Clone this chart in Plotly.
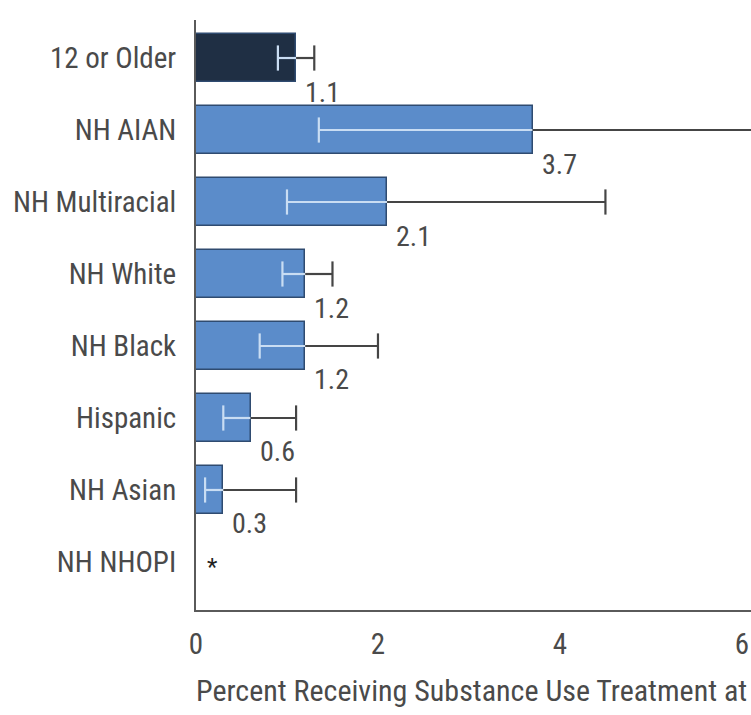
import plotly.graph_objects as go

# Percent receiving substance use treatment, by race/ethnicity
groups = ["12 or Older", "NH AIAN", "NH Multiracial", "NH White",
          "NH Black", "Hispanic", "NH Asian", "NH NHOPI"]
percent = [1.1, 3.7, 2.1, 1.2, 1.2, 0.6, 0.3, None]
ci_low = [0.9, 1.35, 1.0, 0.95, 0.7, 0.3, 0.1, None]
ci_high = [1.3, 7.5, 4.5, 1.5, 2.0, 1.1, 1.1, None]
x_ticks = [0, 2, 4, 6]
suppressed_note = "*"
x_title = "Percent Receiving Substance Use Treatment at"

FONT = "Roboto Condensed, Roboto, sans-serif"
SIZE = 29
TEXT = "#4a4a4a"
AXIS = "#5a5a5a"
TOTAL_FILL = "#1f2f44"
GROUP_FILL = "#5b8cca"
BAR_EDGE = "#2f4b70"
CI_INNER = "#c9ddf3"
CI_OUTER = "#454545"

pos = list(range(len(groups)))
fills = [TOTAL_FILL] + [GROUP_FILL] * (len(groups) - 1)

fig = go.Figure()

fig.add_trace(go.Bar(
    x=percent, y=pos, orientation="h", width=0.66,
    marker=dict(color=fills, line=dict(color=BAR_EDGE, width=1.5)),
    hoverinfo="skip",
))

# Confidence intervals: the part inside the bar is light, the part beyond it dark
inner_x, inner_y, outer_x, outer_y = [], [], [], []
low_x, low_y, high_x, high_y = [], [], [], []
for i, (v, lo, hi) in enumerate(zip(percent, ci_low, ci_high)):
    if v is None:
        continue
    inner_x += [lo, v, None]
    inner_y += [i, i, None]
    outer_x += [v, hi, None]
    outer_y += [i, i, None]
    low_x.append(lo)
    low_y.append(i)
    high_x.append(hi)
    high_y.append(i)

fig.add_trace(go.Scatter(x=inner_x, y=inner_y, mode="lines",
                         line=dict(color=CI_INNER, width=2.2), hoverinfo="skip"))
fig.add_trace(go.Scatter(x=outer_x, y=outer_y, mode="lines",
                         line=dict(color=CI_OUTER, width=2.2), hoverinfo="skip"))
fig.add_trace(go.Scatter(x=low_x, y=low_y, mode="markers",
                         marker=dict(symbol="line-ns", size=18,
                                     line=dict(color=CI_INNER, width=2.2)),
                         hoverinfo="skip"))
fig.add_trace(go.Scatter(x=high_x, y=high_y, mode="markers",
                         marker=dict(symbol="line-ns", size=18,
                                     line=dict(color=CI_OUTER, width=2.2)),
                         hoverinfo="skip"))

# Value labels under the end of each bar
for i, v in enumerate(percent):
    if v is None:
        fig.add_annotation(x=0, y=i, text=suppressed_note, showarrow=False,
                           xanchor="left", yanchor="middle", xshift=9, yshift=-5,
                           font=dict(family=FONT, size=24, color="#222222"))
        continue
    fig.add_annotation(x=v, y=i, text=f"{v:.1f}", showarrow=False,
                       xanchor="left", yanchor="middle", xshift=7, yshift=-34,
                       font=dict(family=FONT, size=SIZE - 1, color=TEXT))

fig.add_annotation(x=0, y=0, xref="paper", yref="paper", text=x_title,
                   showarrow=False, xanchor="left", yanchor="middle",
                   yshift=-80, xshift=-2,
                   font=dict(family=FONT, size=30, color=TEXT))

fig.update_layout(
    width=751, height=715,
    margin=dict(l=196, r=0, t=20, b=105),
    paper_bgcolor="white", plot_bgcolor="white",
    showlegend=False,
    font=dict(family=FONT, size=SIZE, color=TEXT),
    bargap=0,
)
fig.update_xaxes(
    range=[0, 6.1], tickvals=x_ticks, ticktext=[str(t) for t in x_ticks],
    showgrid=False, zeroline=False, showline=True, linecolor=AXIS, linewidth=2,
    ticks="", ticklabelstandoff=7, ticklabeloverflow="allow", automargin=False,
    tickfont=dict(family=FONT, size=SIZE, color=TEXT),
)
fig.update_yaxes(
    range=[7.667, -0.528], tickvals=pos, ticktext=groups,
    showgrid=False, zeroline=False, showline=True, linecolor=AXIS, linewidth=2,
    ticks="", ticklabelstandoff=12, automargin=False,
    tickfont=dict(family=FONT, size=SIZE, color=TEXT),
)

fig.write_html("out.html")
